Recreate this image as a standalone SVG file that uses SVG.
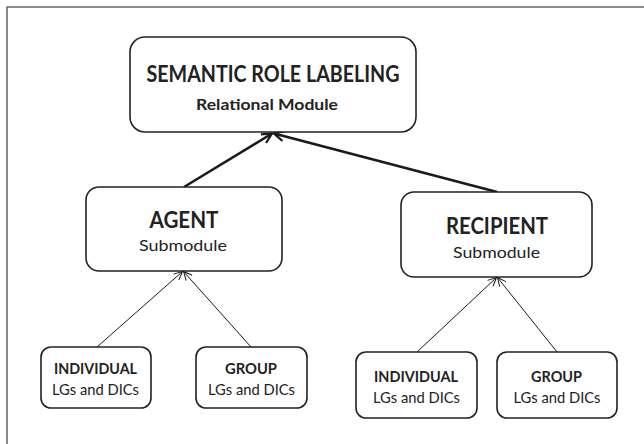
<svg xmlns="http://www.w3.org/2000/svg" width="644" height="444" viewBox="0 0 644 444">
<defs>
<style>
.box{fill:#fff;stroke:#222;stroke-width:1.6}
.t{font-family:Lato,"Open Sans",sans-serif;fill:#222;text-anchor:middle}
.b{font-weight:bold}
.thick{stroke:#1a1a1a;stroke-width:2.6;fill:none}
.thin{stroke:#1a1a1a;stroke-width:1;fill:none}
</style>
<marker id="ah" viewBox="0 0 12 12" refX="11" refY="6" markerWidth="12" markerHeight="12" markerUnits="userSpaceOnUse" orient="auto">
<path d="M1,1 L11,6 L1,11" fill="none" stroke="#1a1a1a" stroke-width="2.2"/>
</marker>
<marker id="ahs" viewBox="0 0 10 10" refX="9.5" refY="5" markerWidth="10" markerHeight="10" markerUnits="userSpaceOnUse" orient="auto">
<path d="M1,1 L9.5,5 L1,9" fill="none" stroke="#1a1a1a" stroke-width="1"/>
</marker>
</defs>
<rect width="644" height="444" fill="#fff"/>
<path d="M7,444 V7 H644" fill="none" stroke="#666" stroke-width="1.5"/>
<g id="connectors">
<line class="thick" x1="184" y1="187" x2="272" y2="133.5" marker-end="url(#ah)"/>
<line class="thick" x1="497" y1="192" x2="274" y2="133.5" marker-end="url(#ah)"/>
<line class="thin" x1="97" y1="347" x2="182.5" y2="271.5" marker-end="url(#ahs)"/>
<line class="thin" x1="251" y1="347" x2="183.5" y2="271.5" marker-end="url(#ahs)"/>
<line class="thin" x1="417" y1="352" x2="496.5" y2="277.5" marker-end="url(#ahs)"/>
<line class="thin" x1="557" y1="352" x2="497.5" y2="277.5" marker-end="url(#ahs)"/>
</g>
<g id="srl">
<rect class="box" x="130" y="37" width="286" height="95" rx="15"/>
<text class="t b" x="273" y="82" font-size="23.5" textLength="253" lengthAdjust="spacingAndGlyphs">SEMANTIC ROLE LABELING</text>
<text class="t b" x="267" y="110" font-size="16" textLength="142" lengthAdjust="spacingAndGlyphs">Relational Module</text>
</g>
<g id="agent">
<rect class="box" x="86" y="187" width="196" height="84" rx="13"/>
<text class="t b" x="184" y="228" font-size="22" textLength="69" lengthAdjust="spacingAndGlyphs">AGENT</text>
<text class="t" x="183" y="251" font-size="16" textLength="88" lengthAdjust="spacingAndGlyphs">Submodule</text>
</g>
<g id="recipient">
<rect class="box" x="401" y="192" width="191" height="85" rx="13"/>
<text class="t b" x="497" y="234" font-size="22" textLength="102" lengthAdjust="spacingAndGlyphs">RECIPIENT</text>
<text class="t" x="496.5" y="258" font-size="16" textLength="87" lengthAdjust="spacingAndGlyphs">Submodule</text>
</g>
<g id="agent-individual">
<rect class="box" x="41" y="347" width="110" height="61" rx="10"/>
<text class="t b" x="95.5" y="374" font-size="14.5" textLength="83" lengthAdjust="spacingAndGlyphs">INDIVIDUAL</text>
<text class="t" x="95.5" y="395" font-size="15" textLength="87" lengthAdjust="spacingAndGlyphs">LGs and DICs</text>
</g>
<g id="agent-group">
<rect class="box" x="196" y="347" width="111" height="61" rx="10"/>
<text class="t b" x="251" y="374" font-size="14.5" textLength="52" lengthAdjust="spacingAndGlyphs">GROUP</text>
<text class="t" x="251.5" y="395" font-size="15" textLength="87" lengthAdjust="spacingAndGlyphs">LGs and DICs</text>
</g>
<g id="recipient-individual">
<rect class="box" x="356" y="352" width="121" height="66" rx="10"/>
<text class="t b" x="416" y="382" font-size="14.5" textLength="84" lengthAdjust="spacingAndGlyphs">INDIVIDUAL</text>
<text class="t" x="416.5" y="403" font-size="15" textLength="87" lengthAdjust="spacingAndGlyphs">LGs and DICs</text>
</g>
<g id="recipient-group">
<rect class="box" x="497" y="352" width="120" height="66" rx="10"/>
<text class="t b" x="556.5" y="382" font-size="14.5" textLength="51" lengthAdjust="spacingAndGlyphs">GROUP</text>
<text class="t" x="557" y="403" font-size="15" textLength="87" lengthAdjust="spacingAndGlyphs">LGs and DICs</text>
</g>
</svg>
